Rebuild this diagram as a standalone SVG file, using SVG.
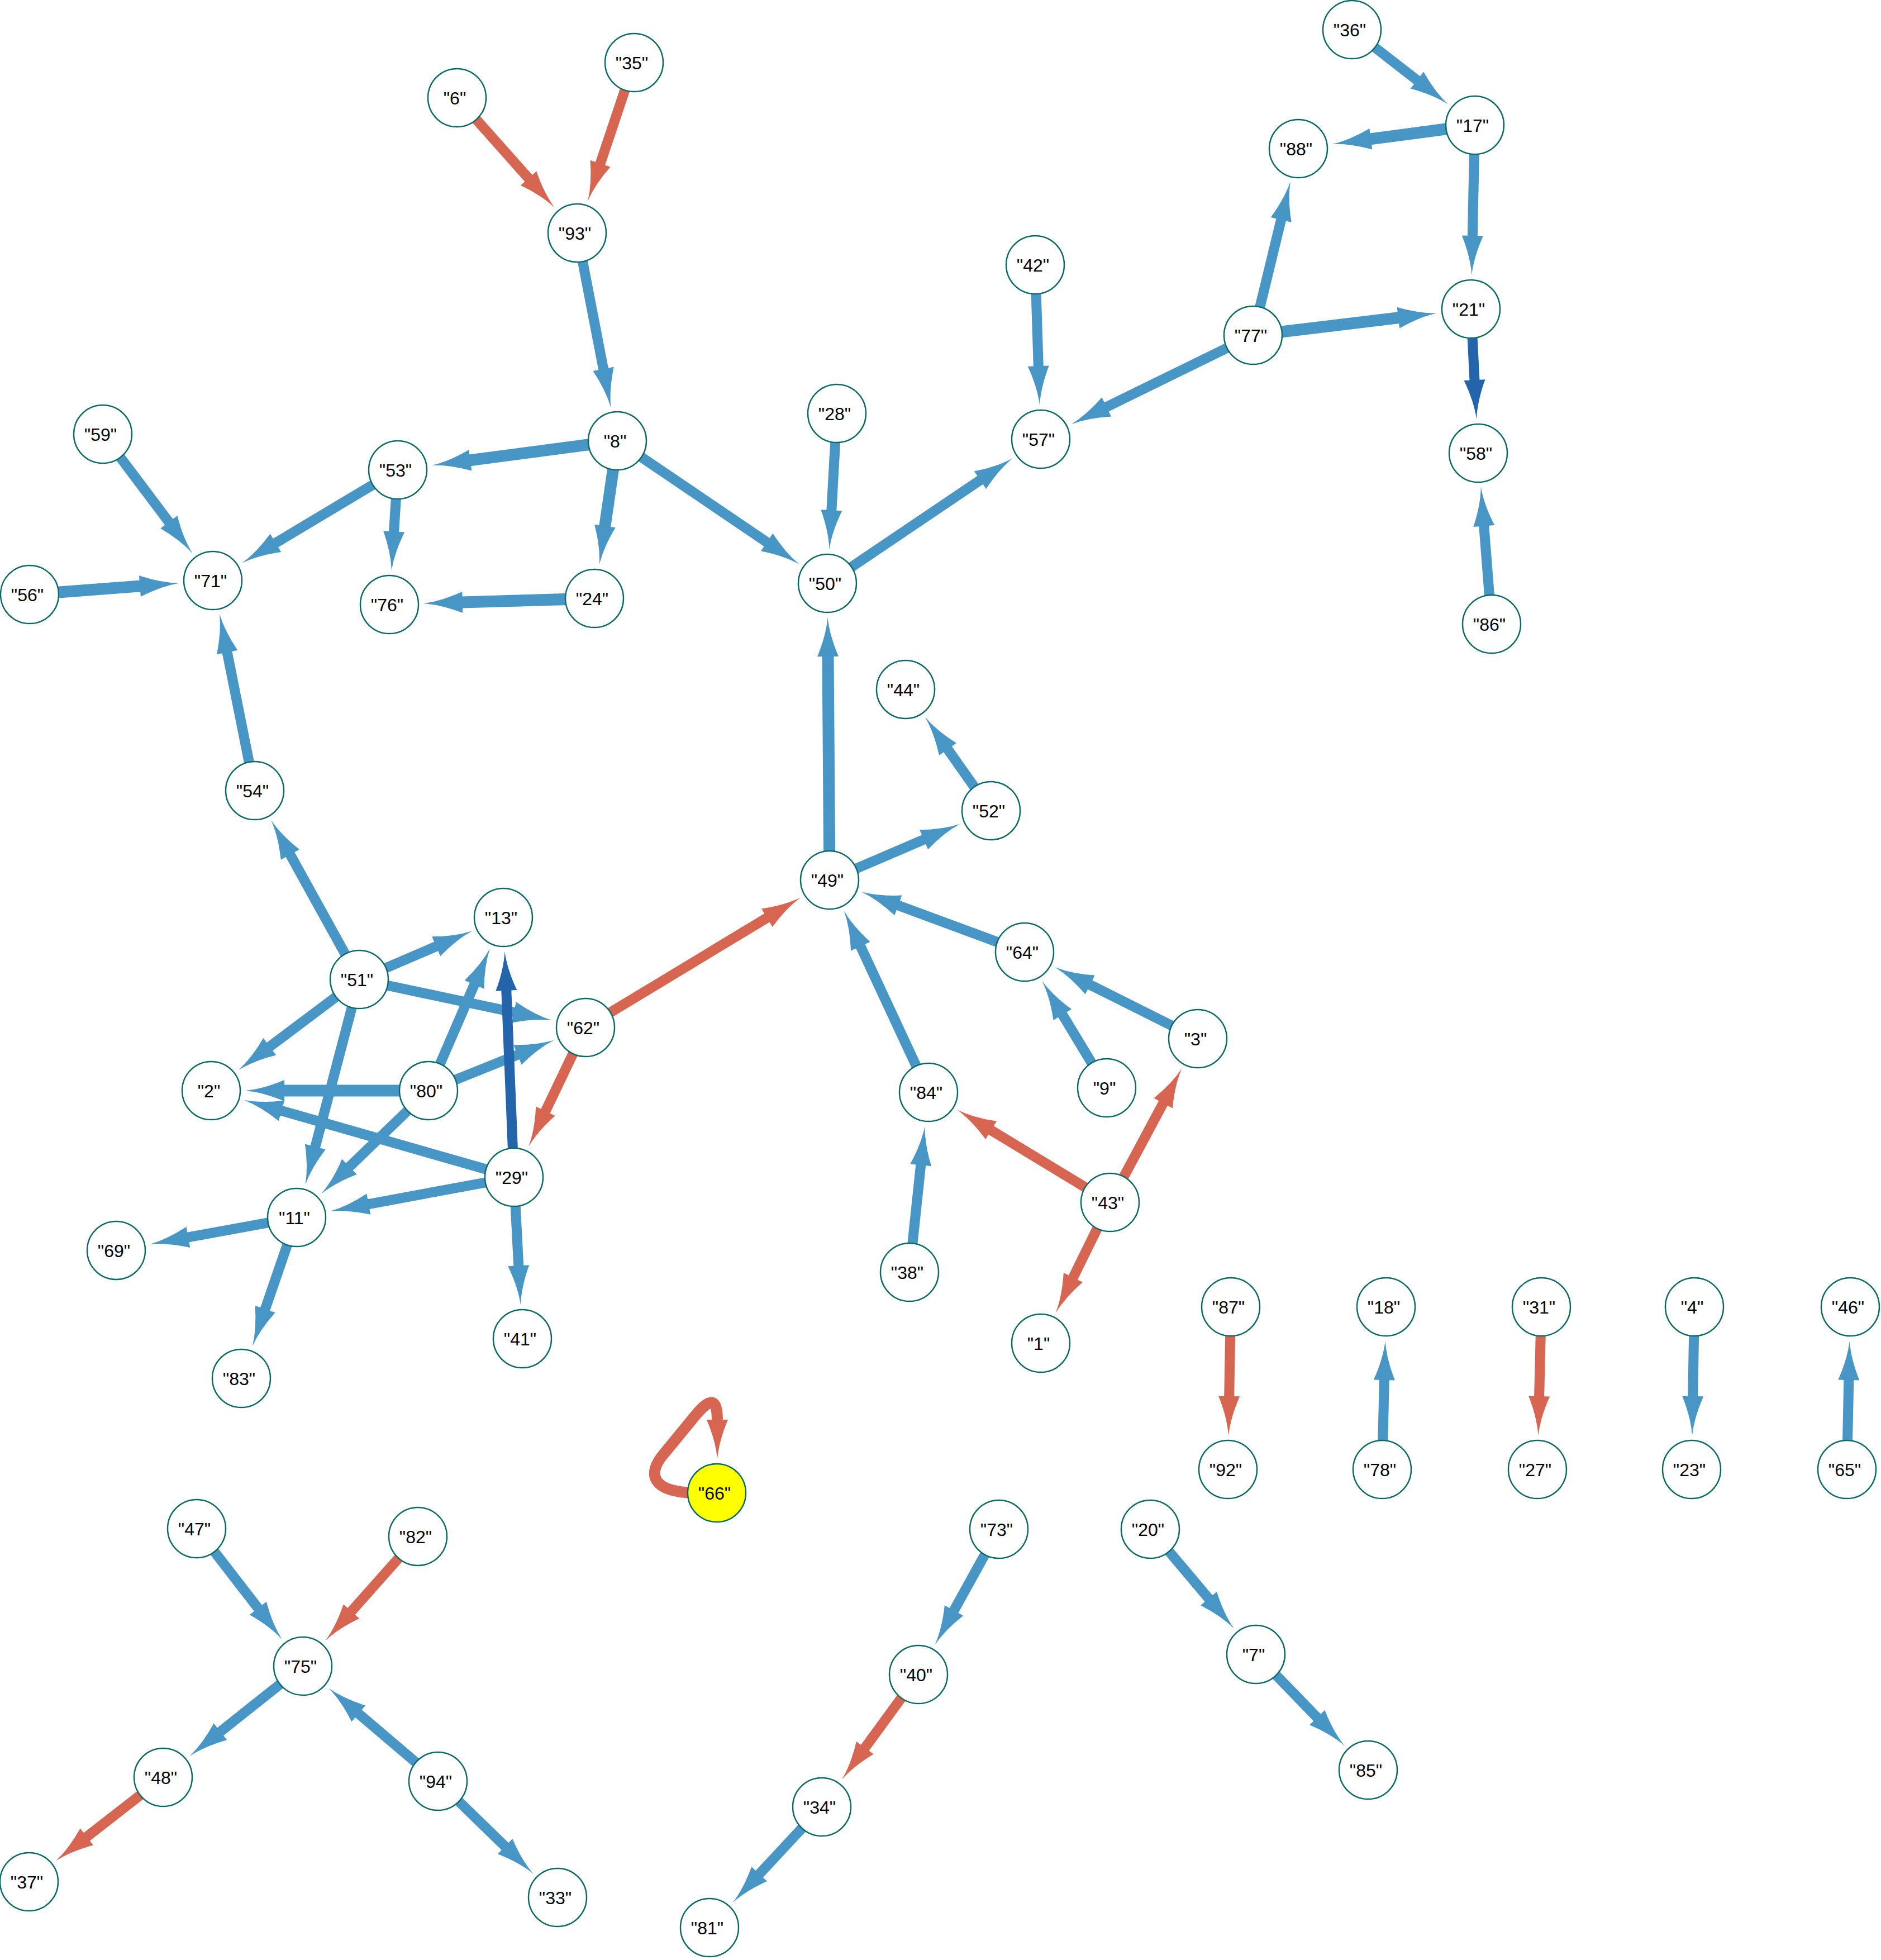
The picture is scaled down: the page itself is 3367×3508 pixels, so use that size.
<svg xmlns="http://www.w3.org/2000/svg" width="3367" height="3508" viewBox="0 0 3367 3508">
<style>
.e{fill:none;stroke-width:18;stroke-linecap:butt}
.b{stroke:#4896c6;marker-end:url(#ab)}
.d{stroke:#2364ab;marker-end:url(#ad)}
.r{stroke:#d66551;marker-end:url(#ar)}
.t{stroke-width:21}
.n circle{fill:#ffffff;stroke:#0b6a66;stroke-width:2.5}
.n text{font-family:"Liberation Sans",Arial,Helvetica,sans-serif;font-size:32px;fill:#000;text-anchor:middle}
</style>
<defs>
<marker id="ab" markerUnits="userSpaceOnUse" orient="auto" refX="1" refY="0" markerWidth="80" markerHeight="44" viewBox="0 -22 80 44" overflow="visible"><path d="M0,-19 Q38,-3 70,0 Q38,3 0,19 Z" fill="#4896c6"/></marker>
<marker id="ad" markerUnits="userSpaceOnUse" orient="auto" refX="1" refY="0" markerWidth="80" markerHeight="44" viewBox="0 -22 80 44" overflow="visible"><path d="M0,-19 Q38,-3 70,0 Q38,3 0,19 Z" fill="#2364ab"/></marker>
<marker id="ar" markerUnits="userSpaceOnUse" orient="auto" refX="1" refY="0" markerWidth="80" markerHeight="44" viewBox="0 -22 80 44" overflow="visible"><path d="M0,-19 Q38,-3 70,0 Q38,3 0,19 Z" fill="#d66551"/></marker>
</defs>
<rect width="3367" height="3508" fill="#ffffff"/>
<g id="connectors">
<line class="e b" x1="2420" y1="53" x2="2537.3" y2="144.2"/>
<line class="e b t" x1="2640" y1="224" x2="2452.9" y2="248.9"/>
<line class="e b" x1="2640" y1="224" x2="2635.8" y2="423"/>
<line class="e b" x1="2243" y1="600" x2="2293.4" y2="392.4"/>
<line class="e b t" x1="2243" y1="600" x2="2503.9" y2="568.6"/>
<line class="e d" x1="2633" y1="553" x2="2639.5" y2="681.1"/>
<line class="e b" x1="2670" y1="1117" x2="2656.2" y2="940.6"/>
<line class="e b" x1="1853" y1="474" x2="1858.8" y2="656.1"/>
<line class="e b" x1="2243" y1="600" x2="1979.8" y2="728.8"/>
<line class="e b" x1="1481" y1="1044" x2="1755.3" y2="858.8"/>
<line class="e b" x1="1498" y1="740" x2="1488.3" y2="914.2"/>
<line class="e b" x1="1105" y1="789" x2="1373.4" y2="971"/>
<line class="e r" x1="818" y1="175" x2="946.7" y2="319.8"/>
<line class="e r" x1="1135" y1="112" x2="1074.2" y2="293.7"/>
<line class="e b" x1="1033" y1="417" x2="1080.3" y2="661.4"/>
<line class="e b t" x1="1105" y1="789" x2="840.9" y2="823.9"/>
<line class="e b t" x1="1105" y1="789" x2="1082.7" y2="942.4"/>
<line class="e b t" x1="1064" y1="1071" x2="826.9" y2="1078.1"/>
<line class="e b" x1="712" y1="841" x2="705.1" y2="952.3"/>
<line class="e b" x1="712" y1="841" x2="492.6" y2="972.3"/>
<line class="e b" x1="184" y1="777" x2="302.9" y2="935.1"/>
<line class="e b t" x1="53" y1="1064" x2="251.4" y2="1048.9"/>
<line class="e b" x1="456" y1="1415" x2="406.4" y2="1166.5"/>
<line class="e b" x1="643" y1="1753" x2="518.9" y2="1528.7"/>
<line class="e b t" x1="1485" y1="1575" x2="1482" y2="1174"/>
<line class="e b" x1="1485" y1="1575" x2="1654.5" y2="1502.3"/>
<line class="e b" x1="1774" y1="1451" x2="1695.9" y2="1340.2"/>
<line class="e b" x1="1834" y1="1704" x2="1606.9" y2="1620.1"/>
<line class="e b" x1="1662" y1="1955" x2="1539.9" y2="1692.8"/>
<line class="e b" x1="2144" y1="1859" x2="1950.3" y2="1762.1"/>
<line class="e b" x1="1981" y1="1947" x2="1901.3" y2="1815.2"/>
<line class="e r" x1="1987" y1="2152" x2="1773.2" y2="2022.4"/>
<line class="e r" x1="1987" y1="2152" x2="2082.6" y2="1973.6"/>
<line class="e r" x1="1987" y1="2152" x2="1920.4" y2="2287.4"/>
<line class="e b" x1="1628" y1="2277" x2="1648.3" y2="2084.3"/>
<line class="e r" x1="1048" y1="1839" x2="1373.7" y2="1642.2"/>
<line class="e r" x1="1048" y1="1839" x2="976" y2="1989.7"/>
<line class="e b" x1="643" y1="1753" x2="781.6" y2="1693.4"/>
<line class="e b" x1="643" y1="1753" x2="920.8" y2="1812"/>
<line class="e b" x1="643" y1="1753" x2="482" y2="1873.9"/>
<line class="e b" x1="643" y1="1753" x2="564.1" y2="2053.3"/>
<line class="e b" x1="767" y1="1952" x2="849.4" y2="1761.4"/>
<line class="e b" x1="767" y1="1952" x2="927.4" y2="1887.5"/>
<line class="e b t" x1="767" y1="1952" x2="508" y2="1952"/>
<line class="e b" x1="767" y1="1952" x2="624.7" y2="2088.9"/>
<line class="e d" x1="920" y1="2107" x2="906.3" y2="1771.9"/>
<line class="e b" x1="920" y1="2107" x2="503" y2="1987.7"/>
<line class="e b" x1="920" y1="2107" x2="658.8" y2="2155.3"/>
<line class="e b" x1="920" y1="2107" x2="928.3" y2="2266.2"/>
<line class="e b" x1="531" y1="2179" x2="335.9" y2="2214.6"/>
<line class="e b" x1="531" y1="2179" x2="474.3" y2="2344.1"/>
<line class="e r" x1="2203" y1="2339" x2="2200.2" y2="2500"/>
<line class="e b" x1="2474" y1="2630" x2="2477.9" y2="2469"/>
<line class="e r" x1="2759" y1="2339" x2="2755.1" y2="2500"/>
<line class="e b" x1="3033" y1="2339" x2="3030.2" y2="2500"/>
<line class="e b" x1="3306" y1="2630" x2="3309.3" y2="2469"/>
<line class="e b" x1="352" y1="2736" x2="462.5" y2="2879.1"/>
<line class="e r" x1="748" y1="2750" x2="628.3" y2="2884.8"/>
<line class="e b" x1="542" y1="2982" x2="393.7" y2="3100"/>
<line class="e b" x1="784" y1="3188" x2="641" y2="3066.3"/>
<line class="e r" x1="292" y1="3181" x2="154.5" y2="3288.1"/>
<line class="e b" x1="784" y1="3188" x2="904.8" y2="3305.4"/>
<line class="e b" x1="1788" y1="2737" x2="1707" y2="2883.3"/>
<line class="e r" x1="1644" y1="2997" x2="1547.7" y2="3129"/>
<line class="e b" x1="1471" y1="3234" x2="1358.5" y2="3354.9"/>
<line class="e b" x1="2059" y1="2737" x2="2164.2" y2="2861.7"/>
<line class="e b" x1="2248" y1="2961" x2="2358.4" y2="3074.7"/>
<path class="e r" style="stroke-width:20" d="M1240,2672 C1170,2670 1155,2640 1190,2600 L1245,2533 C1270,2503 1284,2500 1284,2542"/>
</g>
<g id="node-36" class="n"><circle cx="2420" cy="53" r="52"/><text x="2416" y="65">"36"</text></g>
<g id="node-17" class="n"><circle cx="2640" cy="224" r="52"/><text x="2636" y="236">"17"</text></g>
<g id="node-88" class="n"><circle cx="2324" cy="266" r="52"/><text x="2320" y="278">"88"</text></g>
<g id="node-42" class="n"><circle cx="1853" cy="474" r="52"/><text x="1849" y="486">"42"</text></g>
<g id="node-77" class="n"><circle cx="2243" cy="600" r="52"/><text x="2239" y="612">"77"</text></g>
<g id="node-21" class="n"><circle cx="2633" cy="553" r="52"/><text x="2629" y="565">"21"</text></g>
<g id="node-57" class="n"><circle cx="1863" cy="786" r="52"/><text x="1859" y="798">"57"</text></g>
<g id="node-58" class="n"><circle cx="2646" cy="811" r="52"/><text x="2642" y="823">"58"</text></g>
<g id="node-86" class="n"><circle cx="2670" cy="1117" r="52"/><text x="2666" y="1129">"86"</text></g>
<g id="node-6" class="n"><circle cx="818" cy="175" r="52"/><text x="814" y="187">"6"</text></g>
<g id="node-35" class="n"><circle cx="1135" cy="112" r="52"/><text x="1131" y="124">"35"</text></g>
<g id="node-93" class="n"><circle cx="1033" cy="417" r="52"/><text x="1029" y="429">"93"</text></g>
<g id="node-8" class="n"><circle cx="1105" cy="789" r="52"/><text x="1101" y="801">"8"</text></g>
<g id="node-53" class="n"><circle cx="712" cy="841" r="52"/><text x="708" y="853">"53"</text></g>
<g id="node-59" class="n"><circle cx="184" cy="777" r="52"/><text x="180" y="789">"59"</text></g>
<g id="node-71" class="n"><circle cx="381" cy="1039" r="52"/><text x="377" y="1051">"71"</text></g>
<g id="node-56" class="n"><circle cx="53" cy="1064" r="52"/><text x="49" y="1076">"56"</text></g>
<g id="node-76" class="n"><circle cx="697" cy="1082" r="52"/><text x="693" y="1094">"76"</text></g>
<g id="node-24" class="n"><circle cx="1064" cy="1071" r="52"/><text x="1060" y="1083">"24"</text></g>
<g id="node-28" class="n"><circle cx="1498" cy="740" r="52"/><text x="1494" y="752">"28"</text></g>
<g id="node-50" class="n"><circle cx="1481" cy="1044" r="52"/><text x="1477" y="1056">"50"</text></g>
<g id="node-44" class="n"><circle cx="1621" cy="1234" r="52"/><text x="1617" y="1246">"44"</text></g>
<g id="node-54" class="n"><circle cx="456" cy="1415" r="52"/><text x="452" y="1427">"54"</text></g>
<g id="node-49" class="n"><circle cx="1485" cy="1575" r="52"/><text x="1481" y="1587">"49"</text></g>
<g id="node-13" class="n"><circle cx="901" cy="1642" r="52"/><text x="897" y="1654">"13"</text></g>
<g id="node-52" class="n"><circle cx="1774" cy="1451" r="52"/><text x="1770" y="1463">"52"</text></g>
<g id="node-64" class="n"><circle cx="1834" cy="1704" r="52"/><text x="1830" y="1716">"64"</text></g>
<g id="node-3" class="n"><circle cx="2144" cy="1859" r="52"/><text x="2140" y="1871">"3"</text></g>
<g id="node-9" class="n"><circle cx="1981" cy="1947" r="52"/><text x="1977" y="1959">"9"</text></g>
<g id="node-84" class="n"><circle cx="1662" cy="1955" r="52"/><text x="1658" y="1967">"84"</text></g>
<g id="node-43" class="n"><circle cx="1987" cy="2152" r="52"/><text x="1983" y="2164">"43"</text></g>
<g id="node-38" class="n"><circle cx="1628" cy="2277" r="52"/><text x="1624" y="2289">"38"</text></g>
<g id="node-1" class="n"><circle cx="1863" cy="2404" r="52"/><text x="1859" y="2416">"1"</text></g>
<g id="node-51" class="n"><circle cx="643" cy="1753" r="52"/><text x="639" y="1765">"51"</text></g>
<g id="node-62" class="n"><circle cx="1048" cy="1839" r="52"/><text x="1044" y="1851">"62"</text></g>
<g id="node-2" class="n"><circle cx="378" cy="1952" r="52"/><text x="374" y="1964">"2"</text></g>
<g id="node-80" class="n"><circle cx="767" cy="1952" r="52"/><text x="763" y="1964">"80"</text></g>
<g id="node-29" class="n"><circle cx="920" cy="2107" r="52"/><text x="916" y="2119">"29"</text></g>
<g id="node-11" class="n"><circle cx="531" cy="2179" r="52"/><text x="527" y="2191">"11"</text></g>
<g id="node-69" class="n"><circle cx="208" cy="2238" r="52"/><text x="204" y="2250">"69"</text></g>
<g id="node-41" class="n"><circle cx="935" cy="2396" r="52"/><text x="931" y="2408">"41"</text></g>
<g id="node-83" class="n"><circle cx="432" cy="2467" r="52"/><text x="428" y="2479">"83"</text></g>
<g id="node-66" class="n"><circle cx="1283" cy="2672" r="52" style="fill:#ffff00"/><text x="1279" y="2684">"66"</text></g>
<g id="node-87" class="n"><circle cx="2203" cy="2339" r="52"/><text x="2199" y="2351">"87"</text></g>
<g id="node-18" class="n"><circle cx="2481" cy="2339" r="52"/><text x="2477" y="2351">"18"</text></g>
<g id="node-31" class="n"><circle cx="2759" cy="2339" r="52"/><text x="2755" y="2351">"31"</text></g>
<g id="node-4" class="n"><circle cx="3033" cy="2339" r="52"/><text x="3029" y="2351">"4"</text></g>
<g id="node-46" class="n"><circle cx="3312" cy="2339" r="52"/><text x="3308" y="2351">"46"</text></g>
<g id="node-92" class="n"><circle cx="2198" cy="2630" r="52"/><text x="2194" y="2642">"92"</text></g>
<g id="node-78" class="n"><circle cx="2474" cy="2630" r="52"/><text x="2470" y="2642">"78"</text></g>
<g id="node-27" class="n"><circle cx="2752" cy="2630" r="52"/><text x="2748" y="2642">"27"</text></g>
<g id="node-23" class="n"><circle cx="3028" cy="2630" r="52"/><text x="3024" y="2642">"23"</text></g>
<g id="node-65" class="n"><circle cx="3306" cy="2630" r="52"/><text x="3302" y="2642">"65"</text></g>
<g id="node-47" class="n"><circle cx="352" cy="2736" r="52"/><text x="348" y="2748">"47"</text></g>
<g id="node-82" class="n"><circle cx="748" cy="2750" r="52"/><text x="744" y="2762">"82"</text></g>
<g id="node-75" class="n"><circle cx="542" cy="2982" r="52"/><text x="538" y="2994">"75"</text></g>
<g id="node-48" class="n"><circle cx="292" cy="3181" r="52"/><text x="288" y="3193">"48"</text></g>
<g id="node-94" class="n"><circle cx="784" cy="3188" r="52"/><text x="780" y="3200">"94"</text></g>
<g id="node-37" class="n"><circle cx="52" cy="3368" r="52"/><text x="48" y="3380">"37"</text></g>
<g id="node-33" class="n"><circle cx="998" cy="3396" r="52"/><text x="994" y="3408">"33"</text></g>
<g id="node-73" class="n"><circle cx="1788" cy="2737" r="52"/><text x="1784" y="2749">"73"</text></g>
<g id="node-40" class="n"><circle cx="1644" cy="2997" r="52"/><text x="1640" y="3009">"40"</text></g>
<g id="node-34" class="n"><circle cx="1471" cy="3234" r="52"/><text x="1467" y="3246">"34"</text></g>
<g id="node-81" class="n"><circle cx="1270" cy="3450" r="52"/><text x="1266" y="3462">"81"</text></g>
<g id="node-20" class="n"><circle cx="2059" cy="2737" r="52"/><text x="2055" y="2749">"20"</text></g>
<g id="node-7" class="n"><circle cx="2248" cy="2961" r="52"/><text x="2244" y="2973">"7"</text></g>
<g id="node-85" class="n"><circle cx="2449" cy="3168" r="52"/><text x="2445" y="3180">"85"</text></g>
</svg>
